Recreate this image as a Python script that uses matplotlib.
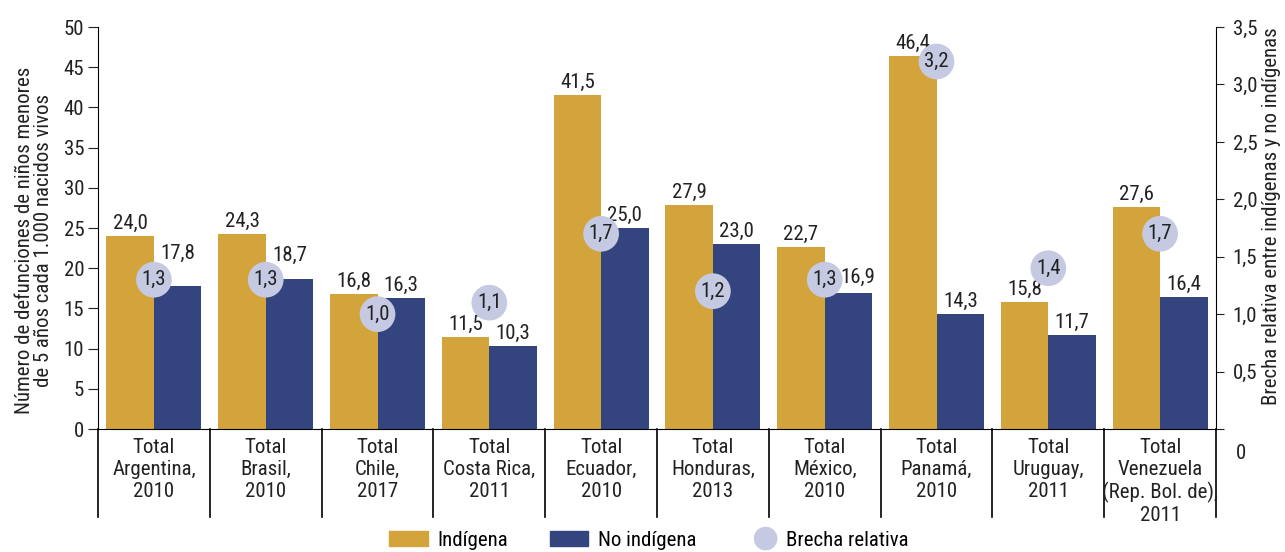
import matplotlib
matplotlib.use("Agg")
import matplotlib.pyplot as plt
import numpy as np
from matplotlib.patches import Patch, Circle
from matplotlib.lines import Line2D
from matplotlib.legend_handler import HandlerBase
import matplotlib.transforms as mtransforms

plt.rcParams['font.family'] = ['Roboto Condensed', 'Liberation Sans Narrow', 'Roboto', 'DejaVu Sans']
plt.rcParams['font.stretch'] = 'condensed'

paises = ["Total\nArgentina,\n2010", "Total\nBrasil,\n2010", "Total\nChile,\n2017",
          "Total\nCosta Rica,\n2011", "Total\nEcuador,\n2010", "Total\nHonduras,\n2013",
          "Total\nMéxico,\n2010", "Total\nPanamá,\n2010", "Total\nUruguay,\n2011",
          "Total\nVenezuela\n(Rep. Bol. de),\n2011"]
indigena = [24.0, 24.3, 16.8, 11.5, 41.5, 27.9, 22.7, 46.4, 15.8, 27.6]
no_indigena = [17.8, 18.7, 16.3, 10.3, 25.0, 23.0, 16.9, 14.3, 11.7, 16.4]
brecha = [1.3, 1.3, 1.0, 1.1, 1.7, 1.2, 1.3, 3.2, 1.4, 1.7]

c_ind = '#D4A43C'
c_no = '#33447F'
c_br = '#C5CAE2'
txt = '#222222'
fs = 15

# etiquetas de "No indígena" movidas a mano para no pisar los círculos (pixeles)
mover_no = {0: (0, 20), 1: (0, 11), 6: (9, 3)}


class HandlerCirculo(HandlerBase):
    # circulo pequeño pegado al texto, como en la leyenda original
    def create_artists(self, legend, orig_handle, xdescent, ydescent, width, height, fontsize, trans):
        r = 8
        c = Circle((width + 6.75 - 14.5 - xdescent, height / 2 - ydescent), r, color=c_br, transform=trans)
        return [c]


fig = plt.figure(figsize=(12.85, 5.52), dpi=100)
ax = fig.add_axes([0.0763, 0.2228, 0.8700, 0.7282])
ax2 = ax.twinx()

x = np.arange(len(paises))
w = 0.425
ax.bar(x - w / 2, indigena, w, color=c_ind, zorder=2)
ax.bar(x + w / 2, no_indigena, w, color=c_no, zorder=2)

for xi, v in zip(x - w / 2, indigena):
    ax.annotate(f"{v:.1f}".replace('.', ','), (xi, v), xytext=(0, 3), textcoords='offset pixels',
                ha='center', va='bottom', fontsize=fs, color=txt)
for i, (xi, v) in enumerate(zip(x + w / 2, no_indigena)):
    dx, dy = mover_no.get(i, (0, 0))
    ax.annotate(f"{v:.1f}".replace('.', ','), (xi, v), xytext=(dx, 3 + dy), textcoords='offset pixels',
                ha='center', va='bottom', fontsize=fs, color=txt)

ax.set_xlim(-0.5, len(paises) - 0.5)
ax.set_ylim(0, 50)
ax.set_yticks(range(0, 51, 5))
ax.tick_params(axis='y', labelsize=fs, length=7, colors=txt, labelcolor=txt, pad=3)
ax.set_xticks([])
ax.spines['top'].set_visible(False)
ax.spines['right'].set_visible(False)
ax.set_ylabel("Número de defunciones de niños menores\nde 5 años cada 1.000 nacidos vivos",
              fontsize=15, color=txt, linespacing=1.0)
ax.yaxis.set_label_coords(-0.040, 0.47)

# separadores de categorías
trans = mtransforms.blended_transform_factory(ax.transData, ax.transAxes)
for s in np.arange(-0.5, len(paises), 1.0):
    ax.plot([s, s], [0, -0.219], color='black', lw=1.2, transform=trans, clip_on=False)
for xi, lab in zip(x, paises):
    ax.text(xi, -0.022, lab, transform=trans, ha='center', va='top', fontsize=fs,
            color=txt, linespacing=1.2)

ax2.set_ylim(0, 3.5)
ax2.set_yticks(np.arange(0, 3.51, 0.5))
ax2.set_yticklabels(["", "0,5", "1,0", "1,5", "2,0", "2,5", "3,0", "3,5"])
ax2.tick_params(axis='y', labelsize=fs, length=6, colors=txt, labelcolor=txt, pad=6)
ax2.annotate("0", xy=(1, 0), xycoords=('axes fraction', 'data'), xytext=(20, -24),
             textcoords='offset pixels', ha='left', va='center', fontsize=fs, color=txt)
for sp in ['top', 'left', 'bottom']:
    ax2.spines[sp].set_visible(False)
ax2.set_ylabel("Brecha relativa entre indígenas y no indígenas", fontsize=15, color=txt)
ax2.yaxis.set_label_coords(1.041, 0.53)

ax2.scatter(x, brecha, s=660, color=c_br, zorder=3, edgecolors='none')
for xi, v in zip(x, brecha):
    ax2.text(xi, v, f"{v:.1f}".replace('.', ','), ha='center', va='center', fontsize=fs,
             color=txt, zorder=4)

handles = [Patch(color=c_ind), Patch(color=c_no), Line2D([], [])]
fig.legend(handles, ["Indígena", "No indígena", "Brecha relativa"], loc='lower center',
           bbox_to_anchor=(0.505, -0.03), ncol=3, frameon=False, fontsize=fs,
           handlelength=1.85, handleheight=0.75, columnspacing=2.0, handletextpad=0.45,
           handler_map={Line2D: HandlerCirculo()})

fig.savefig("out.png", dpi=100)
